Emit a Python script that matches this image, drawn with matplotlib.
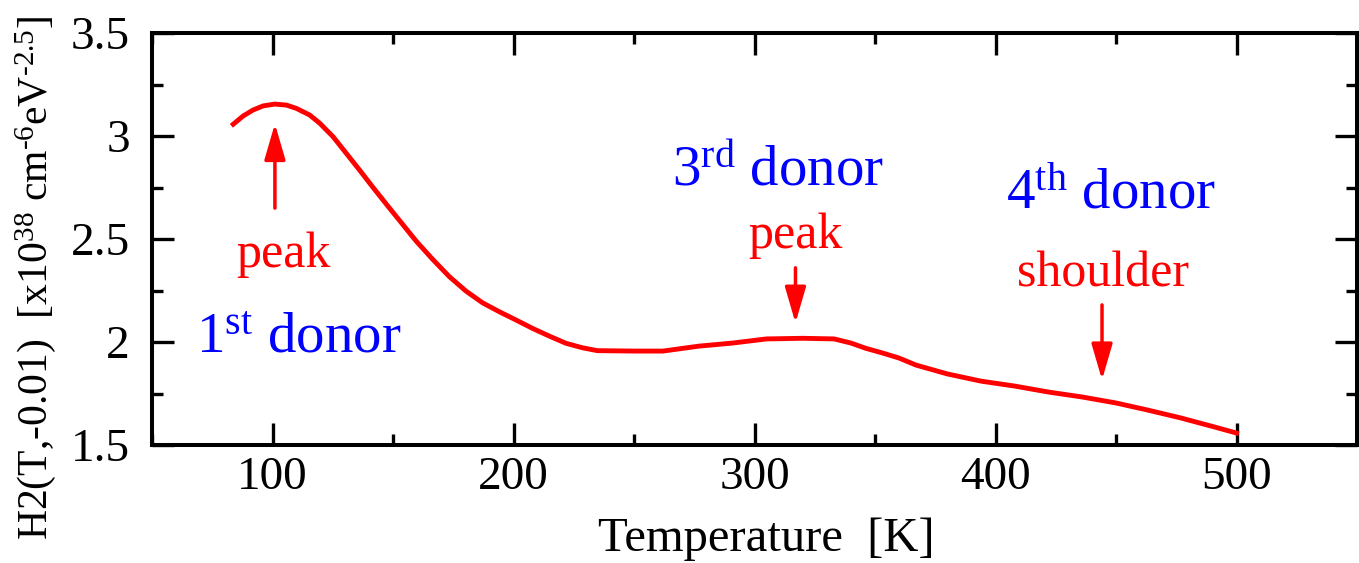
import numpy as np
import matplotlib.pyplot as plt
from matplotlib.ticker import MultipleLocator, FormatStrFormatter

plt.rcParams['font.family'] = ['Liberation Serif', 'DejaVu Serif']
plt.rcParams['mathtext.fontset'] = 'custom'
plt.rcParams['mathtext.rm'] = 'Liberation Serif'
plt.rcParams['mathtext.it'] = 'Liberation Serif:italic'

# curve
temp = [83.7, 87.8, 91.9, 96.1, 100.9, 105.8, 109.9, 115.4, 119.6, 125.1,
        130.6, 136.1, 141.6, 148.6, 152.7, 159.6, 166.4, 173.4, 180.3, 187.2,
        194.1, 201, 207.9, 214.8, 221.7, 228.6, 234.8, 250, 262, 277, 291,
        305, 320, 333, 340, 346, 353, 360, 367, 380, 394, 408, 422, 436, 450,
        463, 477, 491, 500]
h2 = [3.057, 3.097, 3.126, 3.146, 3.155, 3.15, 3.134, 3.102, 3.062, 2.997,
      2.916, 2.835, 2.752, 2.649, 2.59, 2.49, 2.402, 2.317, 2.247, 2.19,
      2.147, 2.107, 2.066, 2.029, 1.994, 1.972, 1.958, 1.956, 1.956, 1.98,
      1.995, 2.015, 2.018, 2.015, 1.995, 1.97, 1.947, 1.922, 1.888, 1.845,
      1.81, 1.786, 1.757, 1.733, 1.704, 1.67, 1.631, 1.587, 1.558]

# annotations: (x, y) in data units
donor_labels = [r'1$^{\rm st}$ donor', r'3$^{\rm rd}$ donor', r'4$^{\rm th}$ donor']
donor_pos = [(68.2, 1.947), (265.7, 2.757), (404.5, 2.65)]
mark_labels = ['peak', 'peak', 'shoulder']
mark_pos = [(104.7, 2.364), (316.9, 2.456), (444.6, 2.267)]
arrow_tail = [(101, 2.65), (317, 2.36), (444.2, 2.18)]
arrow_tip = [(101, 3.06), (317, 2.092), (444.2, 1.816)]

fig = plt.figure(figsize=(13.59, 5.63), dpi=100)
ax = fig.add_axes([152/1359, 118/563, 1205/1359, 412/563])

ax.plot(temp, h2, color='red', lw=3.5)

for s, (x, y) in zip(donor_labels, donor_pos):
    ax.text(x, y, s, color='blue', fontsize=41, ha='left', va='baseline')
for s, (x, y) in zip(mark_labels, mark_pos):
    ax.text(x, y, s, color='red', fontsize=36, ha='center', va='baseline')
for t, h in zip(arrow_tail, arrow_tip):
    ax.annotate('', xy=h, xytext=t,
                arrowprops=dict(arrowstyle='-|>,head_length=1.1,head_width=0.32',
                                mutation_scale=20, color='red', lw=2.5,
                                shrinkA=0, shrinkB=0))

ax.set_xlim(50, 550)
ax.set_ylim(1.5, 3.5)
ax.xaxis.set_major_locator(MultipleLocator(100))
ax.xaxis.set_minor_locator(MultipleLocator(50))
ax.yaxis.set_major_locator(MultipleLocator(0.5))
ax.yaxis.set_minor_locator(MultipleLocator(0.25))
ax.yaxis.set_major_formatter(FormatStrFormatter('%g'))
ax.set_xticks([100, 200, 300, 400, 500])

ax.tick_params(which='both', direction='in', top=True, right=True, width=2.4,
               labelsize=34)
ax.tick_params(which='major', length=16)
ax.tick_params(which='minor', length=8)
ax.tick_params(axis='x', pad=8)
ax.tick_params(axis='y', pad=16)
for sp in ax.spines.values():
    sp.set_linewidth(2.9)

ax.set_xlabel('Temperature  [K]', fontsize=35)
ax.set_ylabel(r'H2(T,-0.01)  [x10$^{38}$ cm$^{\text{-}6}$eV$^{\text{-}2.5}$]',
              fontsize=30)
ax.xaxis.set_label_coords(0.51, -0.175)
ax.yaxis.set_label_coords(-0.078, 0.405)

fig.savefig('out.png', dpi=100)
